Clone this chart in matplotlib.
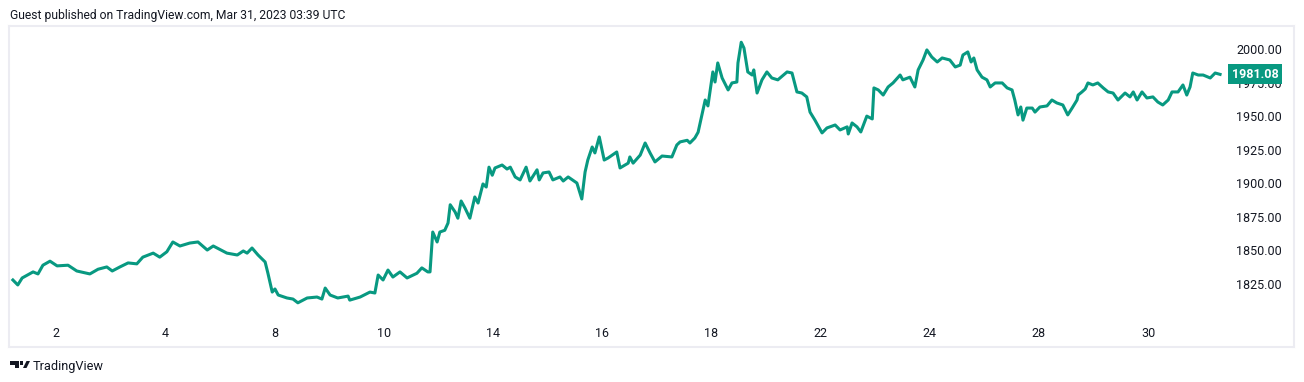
import matplotlib
matplotlib.use("Agg")
import matplotlib.pyplot as plt
from matplotlib.patches import Polygon
from matplotlib import transforms

plt.rcParams['font.family'] = ['Roboto', 'DejaVu Sans']

# ---- data (session position, price) ----
session_pos = [
    1.21, 1.30, 1.38, 1.58, 1.67, 1.76, 1.89, 2.02, 2.22, 2.38, 2.62, 2.77, 2.93, 3.03, 3.17, 3.32,
    3.48, 3.59, 3.78, 3.90, 4.03, 4.14, 4.27, 4.45, 4.60, 4.77, 4.88, 5.13, 5.32, 5.43, 5.50, 5.59,
    5.70, 5.83, 5.88, 5.96, 6.01, 6.07, 6.23, 6.34, 6.43, 6.60, 6.78, 6.87, 6.93, 7.02, 7.16, 7.35,
    7.38, 7.57, 7.75, 7.84, 7.90, 7.99, 8.08, 8.17, 8.30, 8.43, 8.61, 8.70, 8.81, 8.85, 8.90, 8.98,
    9.03, 9.12, 9.18, 9.22, 9.31, 9.36, 9.42, 9.49, 9.58, 9.67, 9.73, 9.82, 9.88, 9.93, 9.99, 10.04,
    10.17, 10.26, 10.32, 10.41, 10.50, 10.61, 10.68, 10.81, 10.85, 10.92, 11.03, 11.10, 11.23, 11.29,
    11.38, 11.54, 11.63, 11.69, 11.74, 11.82, 11.87, 11.95, 12.04, 12.11, 12.27, 12.33, 12.48, 12.51,
    12.57, 12.70, 12.79, 12.88, 12.97, 13.10, 13.28, 13.37, 13.43, 13.56, 13.61, 13.70, 13.76, 13.89,
    13.94, 14.03, 14.07, 14.12, 14.20, 14.31, 14.38, 14.47, 14.49, 14.55, 14.60, 14.67, 14.75, 14.78,
    14.84, 14.93, 15.02, 15.11, 15.22, 15.39, 15.48, 15.57, 15.66, 15.75, 15.81, 15.90, 16.03, 16.12,
    16.27, 16.36, 16.49, 16.51, 16.58, 16.67, 16.74, 16.85, 16.95, 16.98, 17.06, 17.15, 17.24, 17.33,
    17.46, 17.51, 17.64, 17.73, 17.79, 17.88, 17.95, 18.04, 18.14, 18.23, 18.37, 18.47, 18.56, 18.61,
    18.70, 18.76, 18.81, 18.87, 18.96, 19.05, 19.11, 19.20, 19.33, 19.42, 19.51, 19.56, 19.62, 19.67,
    19.71, 19.78, 19.88, 19.93, 20.02, 20.15, 20.24, 20.33, 20.44, 20.53, 20.61, 20.70, 20.72, 20.79,
    20.85, 20.90, 20.99, 21.08, 21.18, 21.27, 21.36, 21.45, 21.58, 21.67, 21.73, 21.80, 21.89, 21.98,
    22.09, 22.18, 22.27, 22.37, 22.44, 22.55, 22.64, 22.71, 22.77, 22.82, 22.92, 23.01, 23.14, 23.23,
    23.32,
]
price = [
    1828.0, 1824.3, 1829.5, 1834.0, 1832.5, 1839.0, 1842.0, 1838.5, 1839.0, 1834.7, 1832.5, 1836.0,
    1837.7, 1834.7, 1837.7, 1840.7, 1840.0, 1845.0, 1848.0, 1845.0, 1849.0, 1856.3, 1853.3, 1855.5,
    1856.3, 1850.3, 1853.3, 1848.0, 1846.6, 1849.6, 1848.0, 1851.8, 1846.6, 1841.4, 1833.2, 1819.0,
    1821.3, 1816.8, 1814.6, 1813.8, 1811.0, 1814.6, 1815.3, 1813.8, 1822.0, 1816.8, 1814.6, 1816.0,
    1813.0, 1815.3, 1819.0, 1818.3, 1831.7, 1828.0, 1835.4, 1830.2, 1834.0, 1829.5, 1833.0, 1837.0,
    1834.0, 1834.0, 1863.7, 1856.3, 1863.7, 1865.0, 1870.4, 1884.0, 1878.6, 1874.0, 1886.8, 1881.6,
    1874.0, 1889.8, 1885.3, 1899.5, 1897.2, 1912.0, 1906.0, 1911.4, 1913.6, 1910.6, 1912.0, 1904.7,
    1902.5, 1912.0, 1901.7, 1910.0, 1902.5, 1907.7, 1908.4, 1902.5, 1904.7, 1901.7, 1904.7, 1900.2,
    1888.3, 1908.4, 1917.3, 1927.0, 1922.6, 1934.5, 1917.3, 1918.8, 1923.3, 1911.4, 1915.0, 1919.6,
    1915.0, 1921.0, 1930.0, 1922.6, 1915.9, 1920.3, 1919.6, 1928.5, 1930.8, 1932.0, 1930.0, 1933.7,
    1938.0, 1962.0, 1957.6, 1982.9, 1975.4, 1989.6, 1978.4, 1969.5, 1974.7, 1975.4, 1989.6, 2005.0,
    2000.7, 1982.9, 1980.6, 1984.4, 1967.2, 1977.0, 1982.9, 1978.4, 1977.0, 1982.9, 1982.1, 1968.0,
    1967.2, 1964.3, 1953.0, 1947.0, 1937.5, 1941.2, 1943.4, 1939.7, 1942.0, 1936.7, 1944.9, 1942.0,
    1938.2, 1950.0, 1947.9, 1971.0, 1969.5, 1965.7, 1971.7, 1974.7, 1980.6, 1977.0, 1979.0, 1971.7,
    1984.4, 1991.8, 1999.3, 1994.0, 1990.3, 1993.3, 1991.8, 1986.6, 1988.0, 1995.5, 1997.8, 1990.3,
    1993.3, 1984.4, 1979.0, 1977.0, 1971.7, 1974.7, 1974.7, 1971.0, 1969.5, 1962.0, 1950.9, 1956.8,
    1947.0, 1956.0, 1956.0, 1953.0, 1956.8, 1957.6, 1962.0, 1959.8, 1958.3, 1950.9, 1956.0, 1962.0,
    1965.7, 1968.0, 1970.2, 1974.7, 1973.2, 1974.7, 1971.0, 1968.0, 1967.2, 1962.0, 1967.2, 1964.3,
    1968.0, 1962.0, 1968.0, 1963.5, 1964.3, 1960.5, 1958.3, 1962.0, 1968.0, 1968.0, 1973.2, 1965.7,
    1971.7, 1982.1, 1980.6, 1980.6, 1978.4, 1982.1, 1981.08,
]
x_tick_pos = [2, 4, 6, 8, 10, 12, 14, 16, 18, 20, 22]
x_tick_labels = ['2', '4', '8', '10', '14', '16', '18', '22', '24', '28', '30']
y_ticks = [1825, 1850, 1875, 1900, 1925, 1950, 1975, 2000]
last_price = 1981.08
header = "Guest published on TradingView.com, Mar 31, 2023 03:39 UTC"

W, H = 1304, 382
fig = plt.figure(figsize=(W / 100, H / 100), dpi=100)
fig.patch.set_facecolor('white')

L, R, T, B = 9, 1294, 26, 347
ax = fig.add_axes([L / W, 1 - B / H, (R - L) / W, (B - T) / H])
ax.set_facecolor('white')
for s in ax.spines.values():
    s.set_color('#ececf2')
    s.set_linewidth(1.5)

green = '#089981'
ax.plot(session_pos, price, color=green, lw=2.2, solid_joinstyle='round', zorder=4)

ax.set_xlim(1.139, 24.674)
ax.set_ylim(1778.1, 2017.1)

ax.set_xticks(x_tick_pos)
ax.set_xticklabels(x_tick_labels)
ax.tick_params(axis='x', length=0, pad=-14.5, labelsize=9, labelcolor='#131722')

ax.yaxis.tick_right()
ax.set_yticks(y_ticks)
ax.set_yticklabels([f"{v:.2f}" for v in y_ticks])
ax.tick_params(axis='y', length=0, pad=-41.5, labelsize=9, labelcolor='#131722')
for lab in ax.get_yticklabels():
    lab.set_horizontalalignment('left')

trans = transforms.blended_transform_factory(ax.transAxes, ax.transData)
ax.text((1255 - L) / (R - L), last_price, f"{last_price:.2f}", transform=trans,
        ha='center', va='center', color='white', fontsize=9, fontweight='bold', zorder=6,
        bbox=dict(boxstyle='square,pad=0.28', fc=green, ec='none'))

fig.text(10 / W, 1 - 18.5 / H, header, fontsize=8.7, color='#131722', va='baseline', ha='left')
fig.text(33 / W, 1 - 370 / H, 'TradingView', fontsize=9.2, color='#131722', va='baseline', ha='left')

# logo (decorative)
def px(x, y):
    return (x / W, 1 - y / H)

logo_c = '#131722'
fig.add_artist(Polygon([px(10, 361), px(19, 361), px(19, 368), px(15, 368), px(15, 364.5), px(10, 364.5)],
                       closed=True, fc=logo_c, ec='none', transform=fig.transFigure))
fig.add_artist(Polygon([px(20, 361), px(23, 361), px(23, 364.5), px(20, 364.5)],
                       closed=True, fc=logo_c, ec='none', transform=fig.transFigure))
fig.add_artist(Polygon([px(26.5, 361), px(30, 361), px(26.5, 368), px(23, 368)],
                       closed=True, fc=logo_c, ec='none', transform=fig.transFigure))

fig.savefig('out.png', dpi=100, facecolor='white')
